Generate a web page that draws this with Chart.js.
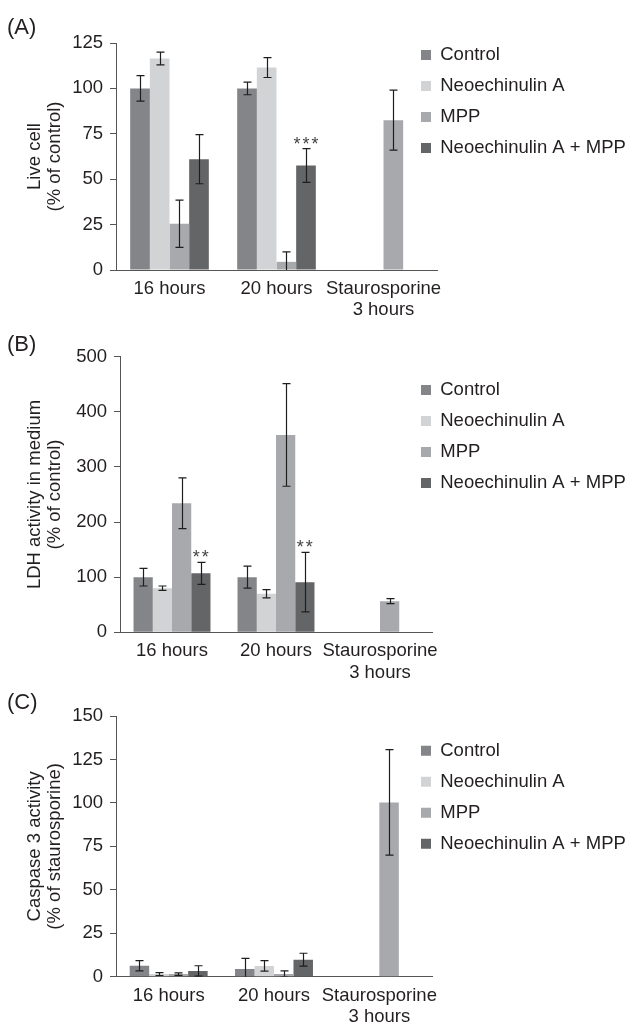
<!DOCTYPE html>
<html><head><meta charset="utf-8">
<script src="https://cdn.jsdelivr.net/npm/chart.js@4.4.1/dist/chart.umd.min.js"></script>
<style>
html,body{margin:0;padding:0;background:#fff;}
body{width:633px;height:1024px;position:relative;overflow:hidden;font-family:'Liberation Sans',Arial,sans-serif;color:#231f20;}
canvas{position:absolute;left:0;}
.pl{position:absolute;left:7px;font-size:22px;line-height:22px;}
</style></head><body>
<canvas id="cA" width="633" height="335" style="top:0px"></canvas>
<canvas id="cB" width="633" height="350" style="top:330px"></canvas>
<canvas id="cC" width="633" height="359" style="top:665px"></canvas>
<div class="pl" style="top:16px">(A)</div>
<div class="pl" style="top:333px">(B)</div>
<div class="pl" style="top:691px">(C)</div>
<script>
// ---------- data ----------
const categories = ['16 hours', '20 hours', ['Staurosporine', '3 hours']];
const seriesNames = ['Control', 'Neoechinulin A', 'MPP', 'Neoechinulin A + MPP'];
const seriesColors = ['#848589', '#d2d3d5', '#a8a9ac', '#646567'];

// Panel A: live cell (% of control)
const liveControl = [100, 100, null];
const liveNeo = [116.5, 111.5, null];
const liveMPP = [25.5, 4.5, 82.5];
const liveCombo = [61, 57.5, null];
const liveControlErr = [7, 3.5, null];
const liveNeoErr = [3.5, 5.5, null];
const liveMPPErr = [13, 5.5, 16.5];
const liveComboErr = [13.5, 9.3, null];
const liveComboSig = [null, '***', null];
const liveTitle = ['Live cell', '(% of control)'];
const liveMax = 125, liveStep = 25;

// Panel B: LDH activity in medium (% of control)
const ldhControl = [100, 100, null];
const ldhNeo = [80, 70, null];
const ldhMPP = [234, 358, 56.5];
const ldhCombo = [107, 91, null];
const ldhControlErr = [16, 20, null];
const ldhNeoErr = [4, 7.5, null];
const ldhMPPErr = [46, 93, 4.5];
const ldhComboErr = [20, 54, null];
const ldhComboSig = ['**', '**', null];
const ldhTitle = ['LDH activity in medium', '(% of control)'];
const ldhMax = 500, ldhStep = 100;

// Panel C: caspase 3 activity (% of staurosporine)
const casControl = [6.3, 4.5, null];
const casNeo = [1.5, 6.2, null];
const casMPP = [1.5, 1.5, 100.3];
const casCombo = [3.3, 9.8, null];
const casControlErr = [3, 6, null];
const casNeoErr = [0.8, 3, null];
const casMPPErr = [0.7, 1.8, 30.4];
const casComboErr = [3, 3.7, null];
const casTitle = ['Caspase 3 activity', '(% of staurosporine)'];
const casMax = 150, casStep = 25;

// ---------- plugins ----------
const TEXT = '#231f20';
const FS = 18.5;
Chart.defaults.font.family = "'Liberation Sans', Arial, sans-serif";
Chart.defaults.font.size = FS;
Chart.defaults.color = TEXT;

function placeLegend(chart, o) {
  const L = chart.legend;
  if (!L || !o) return;
  L.left = o.x; L.top = o.y; L.right = o.x + 260; L.bottom = o.y + 220;
}
const legendPlace = {
  id: 'legendPlace',
  afterLayout(chart, args, o) { placeLegend(chart, o); },
  beforeDraw(chart, args, o) { placeLegend(chart, o); }
};

const errorBars = {
  id: 'errorBars',
  afterDatasetsDraw(chart) {
    const {ctx, chartArea} = chart;
    const ys = chart.scales.y;
    ctx.save();
    ctx.beginPath();
    ctx.rect(chartArea.left, chartArea.top - 2, chartArea.right - chartArea.left, chartArea.bottom - chartArea.top + 2);
    ctx.clip();
    ctx.strokeStyle = '#1e1e1e';
    ctx.lineWidth = 1.2;
    chart.data.datasets.forEach((ds, d) => {
      const meta = chart.getDatasetMeta(d);
      (ds.errors || []).forEach((e, i) => {
        const v = ds.data[i];
        if (v == null || e == null) return;
        const x = Math.round(meta.data[i].x) + 0.5;
        const yt = ys.getPixelForValue(v + e), yb = ys.getPixelForValue(v - e);
        ctx.beginPath();
        ctx.moveTo(x, yt); ctx.lineTo(x, yb);
        ctx.moveTo(x - 4, yt); ctx.lineTo(x + 4, yt);
        ctx.moveTo(x - 4, yb); ctx.lineTo(x + 4, yb);
        ctx.stroke();
      });
    });
    ctx.restore();
    ctx.save();
    ctx.fillStyle = '#444';
    ctx.font = "18px 'Liberation Sans', Arial, sans-serif";
    ctx.textAlign = 'center';
    ctx.textBaseline = 'alphabetic';
    chart.data.datasets.forEach((ds, d) => {
      const meta = chart.getDatasetMeta(d);
      (ds.sig || []).forEach((s, i) => {
        if (!s) return;
        const v = ds.data[i], e = (ds.errors && ds.errors[i]) || 0;
        const x = meta.data[i].x;
        const y = ys.getPixelForValue(v + e) + 1;
        const n = s.length;
        for (let k = 0; k < n; k++) {
          ctx.fillText('*', x + (k - (n - 1) / 2) * 9, y);
        }
      });
    });
    ctx.restore();
  }
};

function buildChart(id, o) {
  const datasets = seriesNames.map((name, k) => ({
    label: name,
    data: o.values[k],
    errors: o.errors[k],
    sig: o.sig[k],
    backgroundColor: seriesColors[k],
    borderWidth: 0,
    barPercentage: 1,
    categoryPercentage: o.cat
  }));
  return new Chart(document.getElementById(id), {
    type: 'bar',
    data: { labels: categories, datasets },
    options: {
      responsive: false,
      animation: false,
      layout: { padding: { left: 0, top: o.top, right: o.right, bottom: 0 } },
      plugins: {
        legend: {
          position: 'chartArea',
          align: 'start',
          labels: { boxWidth: 10, boxHeight: 10, padding: 12.5, font: { size: FS }, color: TEXT }
        },
        tooltip: { enabled: false },
        legendPlace: { x: 408.5, y: o.legY }
      },
      scales: {
        x: {
          grid: { display: true, drawOnChartArea: false, drawTicks: false },
          border: { color: '#555', width: 1 },
          ticks: { padding: 8.4, font: { size: FS, lineHeight: 1.15 }, color: TEXT, maxRotation: 0, autoSkip: false },
          afterFit(s) { s.height = o.xH; }
        },
        y: {
          min: 0, max: o.max,
          ticks: { stepSize: o.step, padding: 7, font: { size: FS }, color: TEXT },
          grid: { drawOnChartArea: false, drawTicks: true, tickLength: 6, color: '#555' },
          border: { color: '#555', width: 1 },
          title: { display: true, text: o.title, font: { size: FS, lineHeight: 1.081 }, padding: { top: 25, bottom: 0 }, color: TEXT },
          afterFit(s) { s.width = o.left; }
        }
      }
    },
    plugins: [legendPlace, errorBars]
  });
}

buildChart('cA', {
  values: [liveControl, liveNeo, liveMPP, liveCombo],
  errors: [liveControlErr, liveNeoErr, liveMPPErr, liveComboErr],
  sig: [null, null, null, liveComboSig],
  title: liveTitle, max: liveMax, step: liveStep,
  top: 43, right: 196, left: 116, xH: 65, legY: 33.25, cat: 0.735
});
buildChart('cB', {
  values: [ldhControl, ldhNeo, ldhMPP, ldhCombo],
  errors: [ldhControlErr, ldhNeoErr, ldhMPPErr, ldhComboErr],
  sig: [null, null, null, ldhComboSig],
  title: ldhTitle, max: ldhMax, step: ldhStep,
  top: 26.7, right: 201, left: 120, xH: 47.7, legY: 38.25, cat: 0.74
});
buildChart('cC', {
  values: [casControl, casNeo, casMPP, casCombo],
  errors: [casControlErr, casNeoErr, casMPPErr, casComboErr],
  sig: [null, null, null, null],
  title: casTitle, max: casMax, step: casStep,
  top: 51, right: 201, left: 116, xH: 47.3, legY: 63.95, cat: 0.74
});
</script>
</body></html>
